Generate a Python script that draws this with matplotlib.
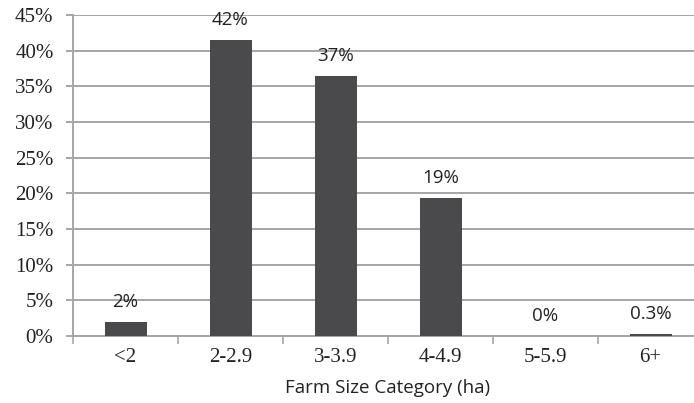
import numpy as np
import matplotlib.pyplot as plt
from matplotlib.ticker import FuncFormatter

# farm size distribution
categories = ["<2", "2-2.9", "3-3.9", "4-4.9", "5-5.9", "6+"]
shares = [1.96, 41.5, 36.5, 19.4, 0.0, 0.3]
labels = ["2%", "42%", "37%", "19%", "0%", "0.3%"]
y_ticks = [0, 5, 10, 15, 20, 25, 30, 35, 40, 45]

grid_col = "#a6a6a6"
bar_col = "#4a4a4c"

fig = plt.figure(figsize=(6.94, 4.03), dpi=100)
# the original is cropped on the right, so the axes run past the figure edge
ax = fig.add_axes([73 / 694, 1 - 336 / 403, 630 / 694, 321 / 403])

x = np.arange(len(categories))
ax.bar(x, shares, width=0.4, color=bar_col, zorder=3)

for xi, v, lab in zip(x, shares, labels):
    ax.annotate(lab, (xi, v), xytext=(0, 8), textcoords="offset points",
                ha="center", va="bottom", fontsize=13.5, family="Open Sans",
                color="#222222")

ax.set_xlim(-0.5, len(categories) - 0.5)
ax.set_ylim(0, 45)
ax.set_yticks(y_ticks)
ax.yaxis.set_major_formatter(FuncFormatter(lambda v, p: f"{v:.0f}%"))
ax.yaxis.grid(True, color=grid_col, linewidth=1.4, zorder=0)

ax.set_xticks(x)
ax.set_xticklabels(categories)
ax.set_xticks(np.arange(len(categories) + 1) - 0.5, minor=True)
ax.tick_params(axis="x", which="major", length=0, pad=9)
ax.tick_params(axis="x", which="minor", length=6, width=1.2, color=grid_col)
ax.tick_params(axis="y", length=5, width=1.4, color=grid_col, pad=9)

for lab in ax.get_xticklabels() + ax.get_yticklabels():
    lab.set_family("Liberation Serif")
    lab.set_fontsize(15)
    lab.set_color("#222222")

ax.set_xlabel("Farm Size Category (ha)", family="Open Sans", fontsize=13.5,
              color="#222222", labelpad=8)

for s in ["top", "right"]:
    ax.spines[s].set_visible(False)
for s in ["left", "bottom"]:
    ax.spines[s].set_color(grid_col)
    ax.spines[s].set_linewidth(1.4)

fig.savefig("out.png", dpi=100)
